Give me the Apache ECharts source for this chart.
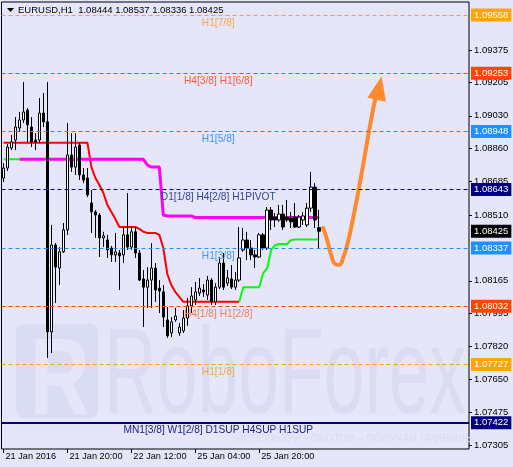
<!DOCTYPE html>
<html><head><meta charset="utf-8">
<script src="https://cdn.jsdelivr.net/npm/echarts@6/dist/echarts.min.js"></script>
<style>html,body{margin:0;padding:0;background:#E6E6FA}#c{width:513px;height:467px}</style>
</head><body><div id="c"></div>
<script>
// ---- data ----
const symbolName = 'EURUSD,H1';
const candleOpen = [1.08703,1.08756,1.08861,1.08903,1.08966,1.09008,1.09060,1.08971,1.08903,1.08903,
1.09044,1.08998,1.07898,1.08353,1.08232,1.08317,1.08432,1.08824,1.08761,1.08877,
1.08720,1.08704,1.08573,1.08526,1.08510,1.08390,1.08379,1.08337,1.08301,1.08311,
1.08301,1.08406,1.08342,1.08422,1.08311,1.08175,1.08132,1.08169,1.08232,1.08127,
1.08107,1.07960,1.07892,1.07960,1.07892,1.07903,1.07970,1.08034,1.08065,1.08101,
1.08117,1.08091,1.08169,1.08055,1.08132,1.08258,1.08153,1.08175,1.08132,1.08169,
1.08327,1.08379,1.08337,1.08301,1.08290,1.08406,1.08337,1.08536,1.08499,1.08484,
1.08515,1.08499,1.08494,1.08499,1.08447,1.08484,1.08458,1.08546,1.08656,1.08444];
const candleClose = [1.08756,1.08866,1.08893,1.08971,1.09008,1.09050,1.08982,1.08893,1.08893,1.09044,
1.08998,1.07898,1.08353,1.08237,1.08317,1.08432,1.08824,1.08761,1.08866,1.08720,
1.08693,1.08615,1.08526,1.08510,1.08390,1.08401,1.08327,1.08301,1.08317,1.08296,
1.08406,1.08342,1.08422,1.08311,1.08169,1.08132,1.08169,1.08232,1.08117,1.08112,
1.07975,1.07877,1.07950,1.07981,1.07923,1.07970,1.08034,1.08086,1.08107,1.08127,
1.08107,1.08169,1.08055,1.08132,1.08258,1.08132,1.08180,1.08132,1.08169,1.08285,
1.08379,1.08337,1.08301,1.08290,1.08406,1.08337,1.08536,1.08484,1.08484,1.08515,
1.08447,1.08484,1.08474,1.08447,1.08499,1.08505,1.08546,1.08656,1.08484,1.08425];
const candleHigh = [1.08782,1.08882,1.08929,1.09023,1.09050,1.09207,1.09071,1.09023,1.08939,1.09123,
1.09149,1.09207,1.08458,1.08363,1.08342,1.08468,1.08992,1.08939,1.08939,1.08887,
1.08756,1.08756,1.08641,1.08536,1.08520,1.08422,1.08406,1.08348,1.08416,1.08327,
1.08447,1.08625,1.08447,1.08447,1.08327,1.08222,1.08237,1.08363,1.08258,1.08169,
1.08143,1.08028,1.07975,1.08023,1.07944,1.08012,1.08075,1.08132,1.08159,1.08180,
1.08148,1.08191,1.08180,1.08153,1.08290,1.08311,1.08222,1.08248,1.08211,1.08447,
1.08442,1.08422,1.08379,1.08327,1.08416,1.08416,1.08552,1.08552,1.08520,1.08563,
1.08563,1.08589,1.08526,1.08573,1.08510,1.08526,1.08573,1.08736,1.08677,1.08537];
const candleLow = [1.08683,1.08741,1.08850,1.08850,1.08945,1.08992,1.08893,1.08866,1.08850,1.08887,
1.08971,1.07761,1.07787,1.08049,1.08143,1.08311,1.08406,1.08736,1.08720,1.08693,
1.08677,1.08604,1.08416,1.08390,1.08290,1.08342,1.08285,1.08264,1.08264,1.08117,
1.08258,1.08327,1.08327,1.08285,1.08164,1.07923,1.08023,1.08023,1.08055,1.07996,
1.07923,1.07866,1.07871,1.07950,1.07877,1.07892,1.07929,1.07996,1.08039,1.08086,
1.08081,1.08065,1.08039,1.08039,1.08122,1.08117,1.08138,1.08122,1.08117,1.08159,
1.08317,1.08274,1.08274,1.08232,1.08285,1.08327,1.08327,1.08432,1.08447,1.08474,
1.08432,1.08474,1.08442,1.08442,1.08442,1.08458,1.08447,1.08526,1.08442,1.08336];
const redLine = [1.08889,1.08889,1.08889,1.08889,1.08889,1.08889,1.08889,1.08889,1.08889,1.08889,
1.08889,1.08889,1.08889,1.08889,1.08889,1.08889,1.08889,1.08889,1.08889,1.08889,
1.08889,1.08889,1.08761,1.08704,1.08667,1.08625,1.08563,1.08526,1.08489,1.08447,
1.08447,1.08447,1.08447,1.08447,1.08437,1.08422,1.08416,1.08416,1.08416,1.08406,
1.08337,1.08201,1.08143,1.08107,1.08081,1.08055,1.08055,1.08055,1.08055,1.08055,
1.08055,1.08055,1.08055,1.08055,1.08055,1.08055,1.08055,1.08055,1.08055,1.08055];
const magentaLine = [null,null,null,null,1.08802,1.08802,1.08802,1.08802,1.08802,1.08802,
1.08802,1.08802,1.08802,1.08802,1.08802,1.08802,1.08802,1.08802,1.08802,1.08802,
1.08802,1.08802,1.08802,1.08802,1.08802,1.08802,1.08802,1.08802,1.08802,1.08802,
1.08802,1.08802,1.08802,1.08802,1.08802,1.08802,1.08772,1.08761,1.08761,1.08761,
1.08510,1.08505,1.08505,1.08505,1.08505,1.08505,1.08505,1.08505,1.08497,1.08497,
1.08497,1.08497,1.08497,1.08497,1.08497,1.08497,1.08497,1.08497,1.08497,1.08497,
1.08497,1.08497,1.08497,1.08497,1.08497,1.08497,1.08497,1.08497,1.08497,1.08497,
1.08497,1.08497,1.08497,1.08497,1.08497,1.08497,1.08497,1.08497,1.08497,1.08497];
const greenLine = [1.08802,1.08802,1.08802,1.08802,1.08802,null,null,null,null,null,
null,null,null,null,null,null,null,null,null,null,
null,null,null,null,null,null,null,null,null,null,
null,null,null,null,null,null,null,null,null,null,
null,null,null,null,null,null,null,null,null,null,
null,null,null,null,null,null,null,null,null,1.08055,
1.08132,1.08132,1.08132,1.08132,1.08132,1.08206,1.08232,1.08327,1.08353,1.08358,
1.08358,1.08358,1.08379,1.08382,1.08382,1.08382,1.08382,1.08382,1.08382,1.08382];
// forecast path: [bar index, price]
const forecastIdx = [80,81,82,83,84,85,86,87,88,89,90,91,92,93,94];
const forecastVal = [1.08442,1.08379,1.08301,1.08253,1.08248,1.08285,1.08353,1.08442,1.08547,1.08656,1.08772,1.08893,1.09008,1.09113,1.09175];
const levelValues = [1.09558,1.09253,1.08948,1.08643,1.08337,1.08032,1.07727,1.07422];
const levelNames = ['H1[7/8]','H4[3/8] H1[6/8]','H1[5/8]','D1[1/8] H4[2/8] H1PIVOT','H1[3/8]','H4[1/8] H1[2/8]','H1[1/8]','MN1[3/8] W1[2/8] D1SUP H4SUP H1SUP'];
const currentPrice = 1.08425;
const yTicks = [1.09375,1.09205,1.09030,1.08860,1.08685,1.08510,1.08165,1.07995,1.07820,1.07650,1.07475,1.07305];
const xTickLabels = ['21 Jan 2016','21 Jan 20:00','22 Jan 12:00','25 Jan 04:00','25 Jan 20:00'];
const xTickEvery = 16;
const totalSlots = 117;
const yMin = 1.07284, yMax = 1.09626;
const watermark = 'RoboForex';
const watermarkSub = 'ИСПОЛЬЗУЙ РОБОТОВ – ПОЛУЧАЙ ПРИБЫЛЬ';

// ---- styles ----
const levelLine = ['#FFA500','#FF4500','#1E90FF','#000080','#1E90FF','#FF4500','#FFA500','#000080'];
const levelText = ['#F7A83C','#FF5A3A','#3A96EE','#2E4A86','#3A96EE','#F57C55','#F7A83C','#1A237E'];
const FONT = '"Liberation Sans", Arial, sans-serif';
const WM = '#D9DCF2';

const categories = [];
for (let i = 0; i < totalSlots; i++) categories.push(String(i));
const candles = candleOpen.map((o, i) => [o, candleClose[i], candleLow[i], candleHigh[i]]);

const boxLabel = (v, bg) => ({show: true, position: 'end', formatter: v.toFixed(5), distance: 2,
  backgroundColor: bg, color: '#fff', padding: [2, 3, 1, 3], fontFamily: FONT, fontSize: 9.5});

const levelLineData = levelValues.map((v, i) => {
  const solid = i === levelValues.length - 1;
  return {yAxis: v,
    lineStyle: {color: levelLine[i], width: solid ? 2 : 1, type: solid ? 'solid' : [4, 3]},
    label: boxLabel(v, levelLine[i])};
});
levelLineData.push({yAxis: currentPrice, lineStyle: {color: 'rgba(0,0,0,0)', width: 1}, label: boxLabel(currentPrice, '#000')});
const levelTextData = levelValues.map((v, i) => ({yAxis: v,
  lineStyle: {color: 'rgba(0,0,0,0)', width: 1},
  label: {show: true, position: 'insideMiddleBottom', formatter: levelNames[i], distance: 3,
    color: levelText[i], offset: [-17, 0], fontFamily: FONT, fontSize: 10.2}}));

const emptySlots = categories.map(() => null);

const forecastData = forecastIdx.map((x, i) => {
  if (i === forecastIdx.length - 1) {
    return {value: [x, forecastVal[i]], symbol: 'triangle', symbolSize: [19, 24], symbolRotate: -12,
      itemStyle: {color: '#FF8A2E'}};
  }
  return {value: [x, forecastVal[i]], symbol: 'none'};
});

const tickShown = (idx) => idx % xTickEvery === 0 && idx / xTickEvery < xTickLabels.length;
const last = candles.length - 1;
const titleText = symbolName + '  ' + [candleOpen[last], candleHigh[last], candleLow[last], candleClose[last]].map(v => v.toFixed(5)).join(' ');

const chart = echarts.init(document.getElementById('c'), null, {renderer: 'canvas'});
chart.setOption({
  backgroundColor: '#E6E6FA',
  animation: false,
  grid: {left: 1.5, right: 44, top: 2, bottom: 18, show: true, borderColor: '#000', borderWidth: 1,
    backgroundColor: 'transparent', containLabel: false, outerBoundsMode: 'none'},
  xAxis: {
    type: 'category', data: categories, boundaryGap: true,
    axisLine: {show: false},
    axisTick: {show: true, alignWithLabel: true, interval: (idx) => tickShown(idx), length: 4, lineStyle: {color: '#000'}},
    axisLabel: {show: true, interval: (idx) => tickShown(idx), align: 'left', margin: 3, padding: [0, 0, 0, 2],
      color: '#000', fontFamily: FONT, fontSize: 9.2,
      formatter: (val, idx) => tickShown(idx) ? xTickLabels[idx / xTickEvery] : ''},
    splitLine: {show: false}
  },
  yAxis: {
    type: 'value', position: 'right', min: yMin, max: yMax, scale: true,
    axisLine: {show: false},
    axisTick: {show: true, length: 3, customValues: yTicks, lineStyle: {color: '#000'}},
    axisLabel: {show: true, customValues: yTicks, margin: 5, color: '#000', fontFamily: FONT, fontSize: 9.5,
      formatter: (v) => v.toFixed(5)},
    splitLine: {show: false}
  },
  graphic: [
    {type: 'rect', z: 0, silent: true, shape: {x: 16, y: 324, width: 82, height: 94, r: 8}, style: {fill: WM}},
    {type: 'text', z: 0, silent: true, x: 30, y: 440, scaleX: 0.75,
      style: {x: 0, y: 0, text: 'R', fill: '#E6E6FA', font: 'bold 110px ' + FONT, verticalAlign: 'bottom'}},
    {type: 'text', z: 0, silent: true, x: 104, y: 440, scaleX: 0.6,
      style: {x: 0, y: 0, text: watermark, fill: WM, font: '122px ' + FONT, verticalAlign: 'bottom'}},
    {type: 'text', z: 0, silent: true, style: {x: 236, y: 434, text: watermarkSub, fill: WM, font: '10.5px ' + FONT}},
    {type: 'polygon', z: 10, shape: {points: [[7, 8], [14, 8], [10.5, 12]]}, style: {fill: '#000'}},
    {type: 'text', z: 10, style: {x: 18, y: 5, text: titleText, fill: '#000', font: '9.5px ' + FONT}}
  ],
  series: [
    {type: 'line', name: 'levels', data: emptySlots, symbol: 'none', z: 1, silent: true,
      markLine: {silent: true, symbol: 'none', animation: false, precision: 5, data: levelLineData}},
    {type: 'line', name: 'levelText', data: emptySlots, symbol: 'none', z: 1, silent: true,
      markLine: {silent: true, symbol: 'none', animation: false, precision: 5, data: levelTextData}},
    {type: 'line', name: 'red', data: redLine, symbol: 'none', z: 2,
      lineStyle: {color: '#FF0000', width: 2}},
    {type: 'line', name: 'green', data: greenLine, symbol: 'none', z: 2, connectNulls: false,
      lineStyle: {color: '#00FF00', width: 2}},
    {type: 'line', name: 'magenta', data: magentaLine, symbol: 'none', z: 2,
      lineStyle: {color: '#FF00FF', width: 3}},
    {type: 'candlestick', name: 'EURUSD', data: candles, barWidth: 3, z: 3,
      itemStyle: {color: '#FFFFFF', color0: '#000000', borderColor: '#000000', borderColor0: '#000000', borderWidth: 1}},
    {type: 'line', name: 'forecast', data: forecastData, smooth: true, symbol: 'none', showAllSymbol: true, z: 4,
      lineStyle: {color: '#FF8A2E', width: 4, cap: 'round'}}
  ]
});
</script></body></html>
